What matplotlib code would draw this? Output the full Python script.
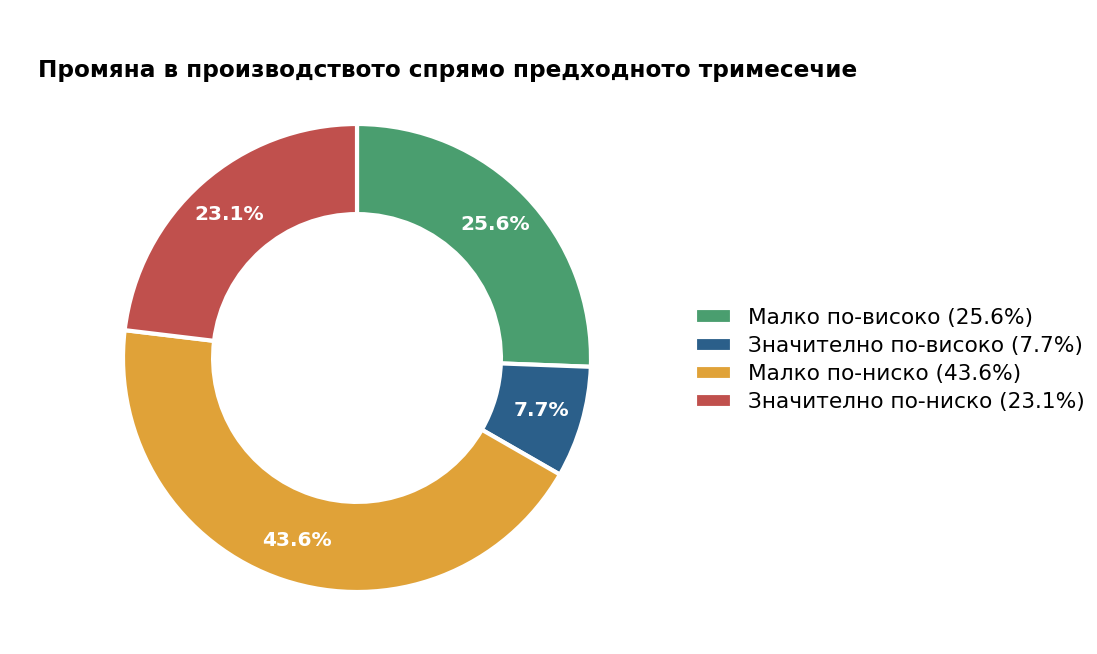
import matplotlib
matplotlib.use("Agg")
import matplotlib.pyplot as plt

# data
categories = ['Малко по-високо', 'Значително по-високо', 'Малко по-ниско', 'Значително по-ниско']
shares = [25.6, 7.7, 43.6, 23.1]
colors = ['#4a9e6f', '#2b5f8a', '#e0a238', '#c0504d']

title = 'Промяна в производството спрямо предходното тримесечие'

W, H = 1097, 654
fig = plt.figure(figsize=(W / 100, H / 100), dpi=100)

# pie axes: centre (357, 358) px, radius ~234 px, pie limits are +-1.25
cx, cy, r = 357, 358, 234
half = 1.25 * r
ax = fig.add_axes([(cx - half) / W, (H - cy - half) / H, 2 * half / W, 2 * half / H])

wedges, texts, autotexts = ax.pie(
    shares,
    colors=colors,
    startangle=90,
    counterclock=False,
    autopct='%1.1f%%',
    pctdistance=0.82,
    wedgeprops=dict(width=0.385, edgecolor='white', linewidth=3),
    textprops=dict(color='white', fontsize=14.5, fontweight='bold'),
)
ax.set_aspect('equal')

fig.text(38 / W, 1 - 70 / H, title, fontsize=16.7, fontweight='bold', ha='left', va='center')

labels = [f'{c} ({v}%)' for c, v in zip(categories, shares)]
fig.legend(wedges, labels, loc='center left', bbox_to_anchor=(686 / W, 1 - 360 / H),
           frameon=False, fontsize=15.6, handlelength=1.7, borderaxespad=0,
           labelspacing=0.38, handletextpad=0.75)

fig.savefig('out.png', dpi=100)
